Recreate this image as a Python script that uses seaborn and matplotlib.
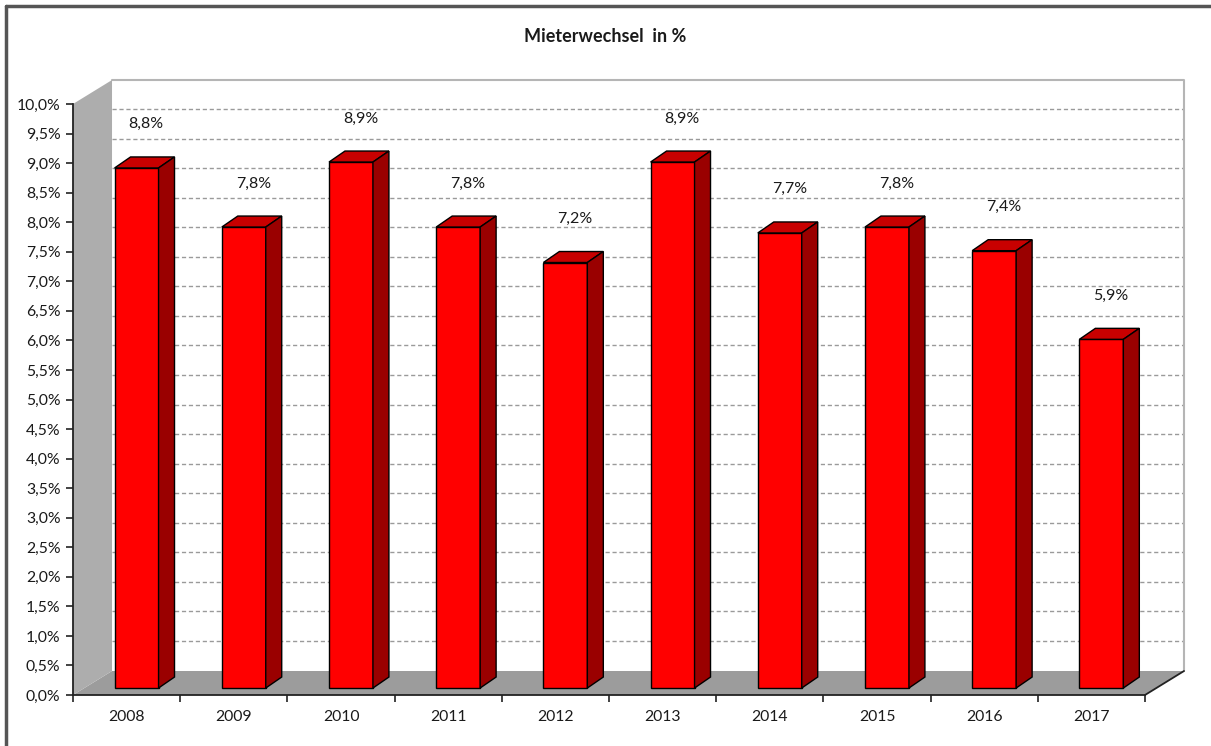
import numpy as np
import pandas as pd
import seaborn as sns
import matplotlib.pyplot as plt
from matplotlib.patches import Polygon
from matplotlib.lines import Line2D

# data
years = ['2008', '2009', '2010', '2011', '2012', '2013', '2014', '2015', '2016', '2017']
values = [8.8, 7.8, 8.9, 7.8, 7.2, 8.9, 7.7, 7.8, 7.4, 5.9]
title = 'Mieterwechsel  in %'

df = pd.DataFrame({'Jahr': years, 'Wert': values})

sns.set_style('white')
plt.rcParams['font.family'] = ['Lato', 'DejaVu Sans']

fig = plt.figure(figsize=(12.11, 7.46), dpi=100)
# axes = front plane of the 3d box
ax = fig.add_axes([73 / 1211, 51 / 746, 1072 / 1211, 591 / 746])

# depth of the box and of the bars (data units)
DX, DY = 0.364, 0.406
BX, BY = 0.093, 0.118
SX, SY = 0.149, 0.186
BAR_W = 0.41
TXT = '#1a1a1a'

# back wall gridlines
for v in np.arange(1.0, 10.01, 0.5):
    ax.plot([-0.5 + DX, 9.5 + DX], [v - 0.085, v - 0.085], color='#9a9a9a',
            ls=(0, (3, 2)), lw=1, zorder=1, clip_on=False)
# back wall outline
ax.plot([-0.5 + DX, 9.5 + DX, 9.5 + DX], [10 + DY, 10 + DY, DY],
        color='#b5b5b5', lw=1.5, zorder=1, clip_on=False)

# floor
ax.add_patch(Polygon([(-0.5, 0), (9.5, 0), (9.5 + DX, DY), (-0.5 + DX, DY)],
                     closed=True, facecolor='#9c9c9c', edgecolor='none',
                     zorder=2, clip_on=False))
ax.plot([9.5, 9.5 + DX], [0, DY], color='#222222', lw=1.3, zorder=2, clip_on=False)
# left side wall
ax.add_patch(Polygon([(-0.5, 0), (-0.5 + DX, DY), (-0.5 + DX, 10 + DY), (-0.5, 10)],
                     closed=True, facecolor='#adadad', edgecolor='none',
                     zorder=2, clip_on=False))

# bars
sns.barplot(data=df, x='Jahr', y='Wert', color='#ff0000', width=BAR_W,
            saturation=1, edgecolor='black', linewidth=1, ax=ax, zorder=3)
ax.set_xlim(-0.5, 9.5)
ax.set_ylim(0, 10)
for p, v in zip(ax.containers[0], values):
    p.set_x(p.get_x() + BX)
    p.set_y(BY)
    x0, w = p.get_x(), p.get_width()
    top = BY + v
    ax.add_patch(Polygon([(x0, top), (x0 + w, top), (x0 + w + SX, top + SY), (x0 + SX, top + SY)],
                         closed=True, facecolor='#c80000', edgecolor='black', lw=1, zorder=3))
    ax.add_patch(Polygon([(x0 + w, BY), (x0 + w + SX, BY + SY), (x0 + w + SX, top + SY), (x0 + w, top)],
                         closed=True, facecolor='#9a0000', edgecolor='black', lw=1, zorder=3))
    ax.text(x0 + w / 2 + 0.09, top + 0.62, f'{v:.1f}%'.replace('.', ','),
            ha='center', va='bottom', fontsize=11.5, color=TXT, zorder=4)

# axes
ax.set_xlabel('')
ax.set_ylabel('')
for s in ['top', 'right']:
    ax.spines[s].set_visible(False)
for s in ['left', 'bottom']:
    ax.spines[s].set_color('#222222')
    ax.spines[s].set_linewidth(1.3)
    ax.spines[s].set_zorder(5)

yt = np.arange(0, 10.01, 0.5)
ax.set_yticks(yt, [f'{t:.1f}%'.replace('.', ',') for t in yt])
ax.set_xticks(np.arange(-0.5, 9.6, 1), [''] * 11)
ax.set_xticks(range(len(years)), years, minor=True)
ax.tick_params(axis='y', length=5, width=1.2, color='#222222', direction='out',
               left=True, labelsize=11.3, labelcolor=TXT, pad=4)
ax.tick_params(axis='x', which='major', length=5, width=1.2, color='#222222',
               direction='out', bottom=True)
ax.tick_params(axis='x', which='minor', length=0, labelsize=11.3,
               labelcolor=TXT, pad=11)

fig.text(0.5, 1 - 37 / 746, title, ha='center', va='center',
         fontsize=13, fontweight='bold', color=TXT)

# outer chart border
fig.add_artist(Line2D([6 / 1211, 6 / 1211], [0, 1 - 6 / 746], color='#555555', lw=2.5))
fig.add_artist(Line2D([6 / 1211, 1], [1 - 6 / 746, 1 - 6 / 746], color='#555555', lw=2.5))

fig.savefig('out.png', dpi=100)
